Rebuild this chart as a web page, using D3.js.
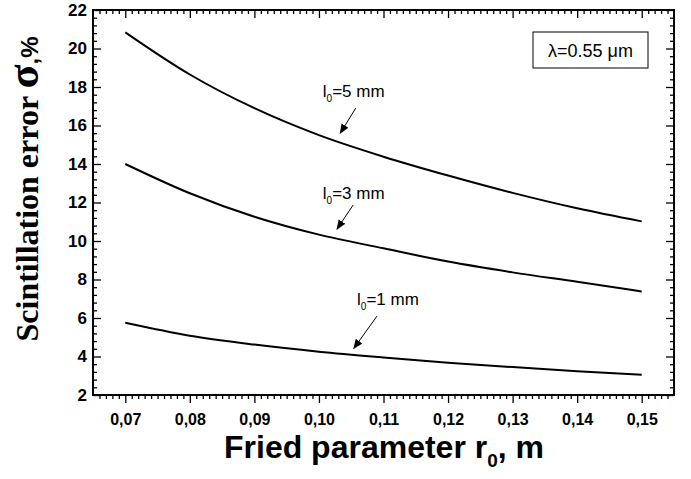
<!DOCTYPE html>
<html>
<head>
<meta charset="utf-8">
<script src="https://cdn.jsdelivr.net/npm/d3@7"></script>
<style>
  body { margin: 0; background: #fff; }
  svg { display: block; }
</style>
</head>
<body>
<div id="chart"></div>
<script>
// Fried parameter r0 (m) and scintillation error sigma (%) for three aperture sizes
var r0 = [0.07, 0.08, 0.09, 0.10, 0.11, 0.12, 0.13, 0.14, 0.15];
var sigma5mm = [20.84, 18.65, 16.9, 15.5, 14.38, 13.4, 12.5, 11.7, 11.02];
var sigma3mm = [14.0, 12.48, 11.26, 10.33, 9.62, 8.93, 8.37, 7.88, 7.38];
var sigma1mm = [5.75, 5.08, 4.62, 4.25, 3.95, 3.68, 3.45, 3.24, 3.05];

var xTicks = [0.07, 0.08, 0.09, 0.10, 0.11, 0.12, 0.13, 0.14, 0.15];
var yTicks = [2, 4, 6, 8, 10, 12, 14, 16, 18, 20, 22];
var seriesNames = ["5", "3", "1"];

var W = 691, H = 479;
var svg = d3.select("#chart").append("svg")
  .attr("width", W)
  .attr("height", H);

var x = d3.scaleLinear()
  .domain([0.065, 0.155])
  .range([93, 674]);

var y = d3.scaleLinear()
  .domain([2, 22])
  .range([395, 10]);

var minorX = d3.range(66, 155).map(function(d) { return d / 1000; })
  .filter(function(d) { return Math.round(d * 1000) % 10 != 0; });
var minorY = d3.range(2, 22.01, 0.4).filter(function(d) { return Math.abs(d / 2 - Math.round(d / 2)) > 0.01; });

var fmtX = function(d) { return d3.format(".2f")(d).replace(".", ","); };

// minor ticks
svg.append("g")
  .attr("transform", "translate(0,395)")
  .call(d3.axisBottom(x).tickValues(minorX).tickSize(4).tickFormat(""));
svg.append("g")
  .attr("transform", "translate(0,10)")
  .call(d3.axisTop(x).tickValues(minorX).tickSize(-4).tickFormat(""));
svg.append("g")
  .attr("transform", "translate(93,0)")
  .call(d3.axisLeft(y).tickValues(minorY).tickSize(-4).tickFormat(""));
svg.append("g")
  .attr("transform", "translate(674,0)")
  .call(d3.axisRight(y).tickValues(minorY).tickSize(-4).tickFormat(""));

// major ticks
var xAxis = svg.append("g")
  .attr("transform", "translate(0,395)")
  .call(d3.axisBottom(x).tickValues(xTicks).tickSize(8).tickPadding(11).tickFormat(fmtX));
svg.append("g")
  .attr("transform", "translate(0,10)")
  .call(d3.axisTop(x).tickValues(xTicks).tickSize(-8).tickFormat(""));
var yAxis = svg.append("g")
  .attr("transform", "translate(93,0)")
  .call(d3.axisLeft(y).tickValues(yTicks).tickSize(-8).tickPadding(6).tickFormat(d3.format("d")));
svg.append("g")
  .attr("transform", "translate(674,0)")
  .call(d3.axisRight(y).tickValues(yTicks).tickSize(-8).tickFormat(""));

svg.selectAll(".domain").remove();
svg.selectAll(".tick line").attr("stroke", "#000").attr("stroke-width", 1.3);

xAxis.selectAll("text")
  .style("font-family", "'Liberation Sans', Arial, sans-serif")
  .style("font-weight", "bold")
  .style("font-size", "16px")
  .attr("fill", "#000");
yAxis.selectAll("text")
  .style("font-family", "'Liberation Sans', Arial, sans-serif")
  .style("font-weight", "bold")
  .style("font-size", "17px")
  .attr("fill", "#000");

// frame
svg.append("rect")
  .attr("x", 93)
  .attr("y", 10)
  .attr("width", 674 - 93)
  .attr("height", 395 - 10)
  .attr("fill", "none")
  .attr("stroke", "#000")
  .attr("stroke-width", 2);

// curves
var line = d3.line()
  .curve(d3.curveMonotoneX)
  .x(function(d) { return x(d[0]); })
  .y(function(d) { return y(d[1]); });

[sigma5mm, sigma3mm, sigma1mm].forEach(function(s) {
  svg.append("path")
    .datum(d3.zip(r0, s))
    .attr("d", line)
    .attr("fill", "none")
    .attr("stroke", "#000")
    .attr("stroke-width", 2);
});

// arrow marker
svg.append("defs").append("marker")
  .attr("id", "arr")
  .attr("viewBox", "0 0 10 10")
  .attr("refX", 9)
  .attr("refY", 5)
  .attr("markerWidth", 10)
  .attr("markerHeight", 10)
  .attr("markerUnits", "userSpaceOnUse")
  .attr("orient", "auto")
  .append("path")
  .attr("d", "M0,1 L10,5 L0,9 Z")
  .attr("fill", "#000");

// annotations (label anchor and arrow, in data units)
var notes = [
  {name: seriesNames[0], tx: 0.1006, ty: 17.48, a: [0.1057, 16.9], b: [0.1033, 15.6]},
  {name: seriesNames[1], tx: 0.1006, ty: 12.18, a: [0.1053, 11.87], b: [0.1028, 10.62]},
  {name: seriesNames[2], tx: 0.1059, ty: 6.68, a: [0.1090, 6.10], b: [0.1054, 4.42]}
];

notes.forEach(function(n) {
  var t = svg.append("text")
    .attr("x", x(n.tx))
    .attr("y", y(n.ty))
    .style("font-family", "'Liberation Sans', Arial, sans-serif")
    .style("font-size", "17px")
    .attr("fill", "#000");
  t.append("tspan").text("l");
  t.append("tspan").attr("dy", 5).style("font-size", "10px").text("0");
  t.append("tspan").attr("dy", -5).text("=" + n.name + " mm");

  svg.append("line")
    .attr("x1", x(n.a[0]))
    .attr("y1", y(n.a[1]))
    .attr("x2", x(n.b[0]))
    .attr("y2", y(n.b[1]))
    .attr("stroke", "#000")
    .attr("stroke-width", 1)
    .attr("marker-end", "url(#arr)");
});

// wavelength box
svg.append("rect")
  .attr("x", 533)
  .attr("y", 32)
  .attr("width", 115)
  .attr("height", 36)
  .attr("fill", "#fff")
  .attr("stroke", "#000")
  .attr("stroke-width", 1);
svg.append("text")
  .attr("x", 590.5)
  .attr("y", 57)
  .attr("text-anchor", "middle")
  .style("font-family", "'Liberation Sans', Arial, sans-serif")
  .style("font-size", "18px")
  .attr("fill", "#000")
  .text("\u03bb=0.55 \u03bcm");

// x axis title
var xt = svg.append("text")
  .attr("x", 384)
  .attr("y", 458)
  .attr("text-anchor", "middle")
  .style("font-family", "'Liberation Sans', Arial, sans-serif")
  .style("font-weight", "bold")
  .style("font-size", "32px")
  .attr("fill", "#000");
xt.append("tspan").text("Fried parameter r");
xt.append("tspan").attr("dy", 9).style("font-size", "19px").text("0");
xt.append("tspan").attr("dy", -9).text(", m");

// y axis title
var yt = svg.append("text")
  .attr("transform", "translate(38,189) rotate(-90)")
  .attr("text-anchor", "middle")
  .style("font-family", "'Liberation Serif', 'Times New Roman', serif")
  .style("font-weight", "bold")
  .style("font-size", "32px")
  .attr("fill", "#000");
yt.append("tspan").text("Scintillation error ");
yt.append("tspan").style("font-size", "44px").text("\u03c3");
yt.append("tspan").style("font-size", "24px").style("font-family", "'Liberation Sans', Arial, sans-serif").text(",%");
</script>
</body>
</html>
